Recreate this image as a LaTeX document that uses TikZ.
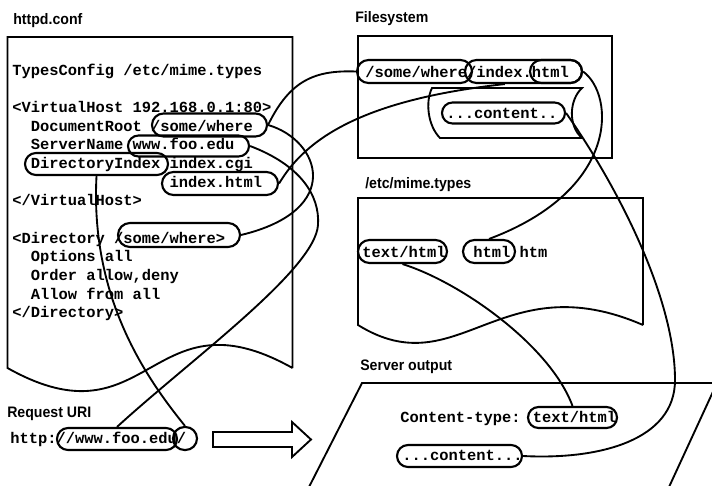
\documentclass[tikz,border=0pt]{standalone}
\usepackage{fontspec}
\setmainfont{Liberation Sans}[FakeStretch=0.93]
\newfontfamily\codefont{Liberation Mono}
\usetikzlibrary{shapes.misc}

\begin{document}
\begin{tikzpicture}[x=0.75pt,y=-0.75pt,
  title/.style={anchor=base west, inner sep=0pt, font=\bfseries\fontsize{11.4pt}{13pt}\selectfont},
  code/.style={anchor=base west, inner sep=0pt, font=\codefont\bfseries\fontsize{11.57pt}{14pt}\selectfont},
  frame/.style={line width=1.4pt, line join=miter},
  oval/.style 2 args={draw, rounded rectangle, inner sep=0pt, line width=1.6pt,
    minimum width=#1*0.75pt, minimum height=#2*0.75pt},
  link/.style={line width=1.4pt},
]
\useasboundingbox (0,0) rectangle (712,485);

% ---- section titles ----
\node[title] (tconf) at (13,25) {httpd.conf};
\node[title] (tfs) at (355,23) {Filesystem};
\node[title] (tmime) at (365,188) {/etc/mime.types};
\node[title] (turi) at (7,417) {Request URI};
\node[title] (tout) at (360,370) {Server output};

% ---- httpd.conf document ----
\draw[frame] (292.5,368) -- (292.5,37) -- (7.5,37) -- (7.5,368)
  .. controls (150,448) and (150,288) .. (292.5,368);
\node[code] (c1) at (12,75) {TypesConfig /etc/mime.types};
\node[code] (c3) at (12,112.3) {<VirtualHost 192.168.0.1:80>};
\node[code] (c4) at (30.5,131) {DocumentRoot /some/where};
\node[code] (c5) at (30.5,149.7) {ServerName www.foo.edu};
\node[code] (c6) at (30.5,168.3) {DirectoryIndex index.cgi};
\node[code] (c7) at (169.4,187) {index.html};
\node[code] (c8) at (12,205.7) {</VirtualHost>};
\node[code] (c10) at (12,243) {<Directory /some/where>};
\node[code] (c11) at (30.5,261.7) {Options all};
\node[code] (c12) at (30.5,280.3) {Order allow,deny};
\node[code] (c13) at (30.5,299) {Allow from all};
\node[code] (c14) at (12,317.7) {</Directory>};

\node[oval={115}{23}] (dr) at (209.5,125) {};
\node[oval={121}{21}] (sn) at (188.5,146) {};
\node[oval={143}{22}] (di) at (96.5,164) {};
\node[oval={116}{23}] (ih) at (220,183.5) {};
\node[oval={122}{24}] (dsw) at (179,235) {};

% ---- filesystem ----
\draw[frame] (358,36) rectangle (612,158);
\draw[frame] (432,88) -- (582,88) .. controls (569,100) and (568,126) .. (582,138)
  -- (440,138) .. controls (428,126) and (425,102) .. (432,88) -- cycle;
\node[code] (fpath) at (365,77) {/some/where/index.html};
\node[code] (fbody) at (446,118) {...content..};
\node[oval={115}{23}] (fssw) at (414.5,71.5) {};
\node[oval={117}{23}] (fsidx) at (523.5,71.5) {};
\node[oval={52}{23}] (fshtml) at (556,71.5) {};
\node[oval={123}{21}] (fscont) at (503.5,113) {};

% ---- mime.types document ----
\draw[frame] (643,325) -- (643,198) -- (358,198) -- (358,325)
  .. controls (458,387) and (500,263) .. (643,325);
\node[code] (mline) at (362,257) {text/html\ \ \ html htm};
\node[oval={89}{23}] (mtext) at (402.5,251.5) {};
\node[oval={52}{23}] (mhtml) at (489,251.5) {};

% ---- server output ----
\begin{scope}
  \clip (0,0) rectangle (712,485);
  \draw[frame] (309,487) -- (362,383) -- (717,383) -- (669,487);
\end{scope}
\node[code] (ohead) at (400,422) {Content-type: text/html};
\node[code] (obody) at (402,460) {...content...};
\node[oval={89}{21}] (stext) at (572.5,417.5) {};
\node[oval={125}{22}] (scont) at (459.5,456) {};

% ---- request URI ----
\node[code] (uline) at (10,443) {http://www.foo.edu/};
\node[oval={120}{22}] (uwww) at (117,439) {};
\node[oval={24}{23}] (uslash) at (185,438.5) {};
\draw[frame, fill=white] (213,432) -- (292,432) -- (292,422) -- (311,439.5)
  -- (292,457) -- (292,447) -- (213,447) -- cycle;

% ---- connectors ----
\coordinate (bendA) at (318,225);
\coordinate (bendB) at (675,380);
\draw[link] (dr.east) .. controls (290,80) and (315,70) .. (fssw.west);
\draw[link] (dr.east) .. controls (320,140) and (345,210) .. (dsw.east);
\draw[link] (sn.east) .. controls (300,165) and (320,195) .. (bendA)
  .. controls (315,270) and (190,360) .. (uwww.north);
\draw[link] (di.south) .. controls (90,300) and (148,380) .. (uslash.north);
\draw[link] (ih.east) .. controls (305,140) and (360,100) .. ([xshift=-14pt]fsidx.south);
\draw[link] (fshtml.east) .. controls (615,95) and (620,190) .. (mhtml.north);
\draw[link] (mtext.south) .. controls (460,282) and (550,345) .. (stext.north);
\draw[link] (fscont.east) .. controls (620,190) and (675,300) .. (bendB)
  .. controls (675,440) and (600,460) .. (scont.east);
\end{tikzpicture}
\end{document}
